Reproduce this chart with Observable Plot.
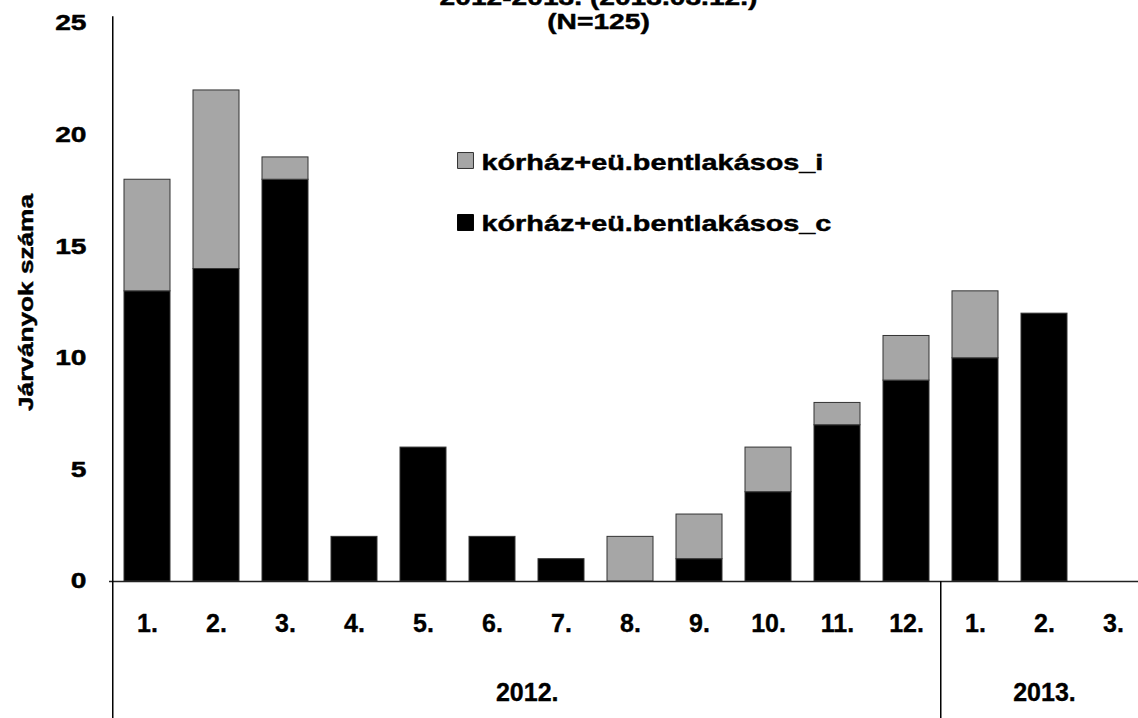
<!DOCTYPE html>
<html><head><meta charset="utf-8">
<script src="https://cdn.jsdelivr.net/npm/d3@7"></script>
<script src="https://cdn.jsdelivr.net/npm/@observablehq/plot@0.6"></script>
<style>body{margin:0;background:#fff;overflow:hidden;}</style>
</head><body><div id="chart"></div>
<script>
// ---- data ----
const years = ["2012.", "2013."];
const months2012 = ["1.", "2.", "3.", "4.", "5.", "6.", "7.", "8.", "9.", "10.", "11.", "12."];
const months2013 = ["1.", "2.", "3."];
const seriesNames = ["kórház+eü.bentlakásos_i", "kórház+eü.bentlakásos_c"];
const valuesC = [13, 14, 18, 2, 6, 2, 1, 0, 1, 4, 7, 9, 10, 12, 0];
const valuesI = [5, 8, 1, 0, 0, 0, 0, 2, 2, 2, 1, 2, 3, 0, 0];
const yTicks = [0, 5, 10, 15, 20, 25];
const titleLines = ["2012-2013. (2013.03.12.)", "(N=125)"];
const yLabel = "Járványok száma";

// ---- derived table ----
const cats = [
  ...months2012.map(m => ({key: years[0] + "|" + m, year: years[0], month: m})),
  ...months2013.map(m => ({key: years[1] + "|" + m, year: years[1], month: m}))
];
const rows = [];
cats.forEach((c, i) => {
  rows.push({key: c.key, series: seriesNames[1], value: valuesC[i]});
  rows.push({key: c.key, series: seriesNames[0], value: valuesI[i]});
});

const W = 1138, H = 718;
const x0 = 109, x1 = 1151.2;
const step = (x1 - x0) / cats.length;
const font = "Liberation Sans, Arial, Helvetica, sans-serif";
const mL = 109, mT = 23, mB = 137;
const S = {ariaLabel: () => "stretch", stroke: "#000", strokeWidth: 0.45};
const T = {fontWeight: "bold", fill: "#000", stroke: "#000", strokeWidth: 0.35};

const chart = Plot.plot({
  width: W, height: H,
  marginLeft: mL, marginRight: 0, marginTop: mT, marginBottom: mB,
  style: {fontFamily: font, background: "#fff", color: "#000"},
  x: {type: "band", domain: cats.map(c => c.key), range: [x0, x1], paddingInner: 0.338, paddingOuter: 0.169, axis: null},
  y: {domain: [0, 25], range: [H - mB, mT], axis: null},
  color: {domain: seriesNames, range: ["#a6a6a6", "#000000"]},
  marks: [
    Plot.barY(rows.filter(d => d.value > 0), {x: "key", y: "value", fill: "series", stroke: "#333", strokeWidth: 1}),
    // baseline
    Plot.ruleY([0], {stroke: "#222", strokeWidth: 1.5}),
    // left axis line (continues through the category area)
    Plot.ruleX([cats[0].key], {x: d => d, y1: -7, y2: 25.3, dx: -step / 2, stroke: "#000", strokeWidth: 1.5}),
    // year separator
    Plot.ruleX([cats[12].key], {x: d => d, y1: -7, y2: 0, dx: -step / 2, stroke: "#000", strokeWidth: 1.5}),
    // y tick labels
    Plot.text(yTicks, {y: d => d, text: d => String(d), frameAnchor: "left", dx: -23, textAnchor: "end", lineAnchor: "middle",
      fontSize: 21.5, fontWeight: "bold", fill: "#000", ...S}),
    // y axis title
    Plot.text([yLabel], {text: d => d, frameAnchor: "left", dx: -83, rotate: -90, textAnchor: "middle", lineAnchor: "middle",
      fontSize: 20, fontWeight: "bold", fill: "#000", ...S}),
    // month labels
    Plot.text(cats, {x: "key", text: "month", frameAnchor: "bottom", dy: 50, lineAnchor: "bottom", textAnchor: "middle",
      fontSize: 25, ...T}),
    // year labels
    Plot.text([cats[5]], {x: "key", text: "year", frameAnchor: "bottom", dx: step / 2, dy: 119, lineAnchor: "bottom",
      fontSize: 25, ...T}),
    Plot.text([cats[13]], {x: "key", text: "year", frameAnchor: "bottom", dy: 119, lineAnchor: "bottom",
      fontSize: 25, ...T}),
    // title
    Plot.text([titleLines[0]], {text: d => d, frameAnchor: "top-left", dx: 598 - mL, dy: 4 - mT, textAnchor: "middle", lineAnchor: "bottom",
      fontSize: 21.5, fontWeight: "bold", fill: "#000", ...S}),
    Plot.text([titleLines[1]], {text: d => d, frameAnchor: "top-left", dx: 598 - mL, dy: 28 - mT, textAnchor: "middle", lineAnchor: "bottom",
      fontSize: 21.5, fontWeight: "bold", fill: "#000", ...S}),
    // legend
    Plot.dot([seriesNames[0]], {frameAnchor: "top-left", dx: 465 - mL, dy: 160 - mT, symbol: "square", r: 9, fill: d => d, stroke: "#333", strokeWidth: 1}),
    Plot.dot([seriesNames[1]], {frameAnchor: "top-left", dx: 465 - mL, dy: 222 - mT, symbol: "square", r: 9, fill: d => d, stroke: "#000", strokeWidth: 1}),
    Plot.text([seriesNames[0]], {text: d => d, frameAnchor: "top-left", dx: 481 - mL, dy: 169 - mT, textAnchor: "start", lineAnchor: "bottom",
      fontSize: 22, fontWeight: "bold", fill: "#000", ...S}),
    Plot.text([seriesNames[1]], {text: d => d, frameAnchor: "top-left", dx: 481 - mL, dy: 230 - mT, textAnchor: "start", lineAnchor: "bottom",
      fontSize: 22, fontWeight: "bold", fill: "#000", ...S})
  ]
});

// horizontally widen the Excel-style text (stretched glyphs in the reference)
chart.querySelectorAll('text[aria-label="stretch"], g[aria-label="stretch"] text').forEach(t => {
  const x = parseFloat(t.getAttribute("x")) || 0;
  const tr = t.getAttribute("transform") || "";
  t.setAttribute("transform", `${tr} translate(${x},0) scale(1.31,1) translate(${-x},0)`);
});

document.getElementById("chart").appendChild(chart);
</script>
</body></html>
